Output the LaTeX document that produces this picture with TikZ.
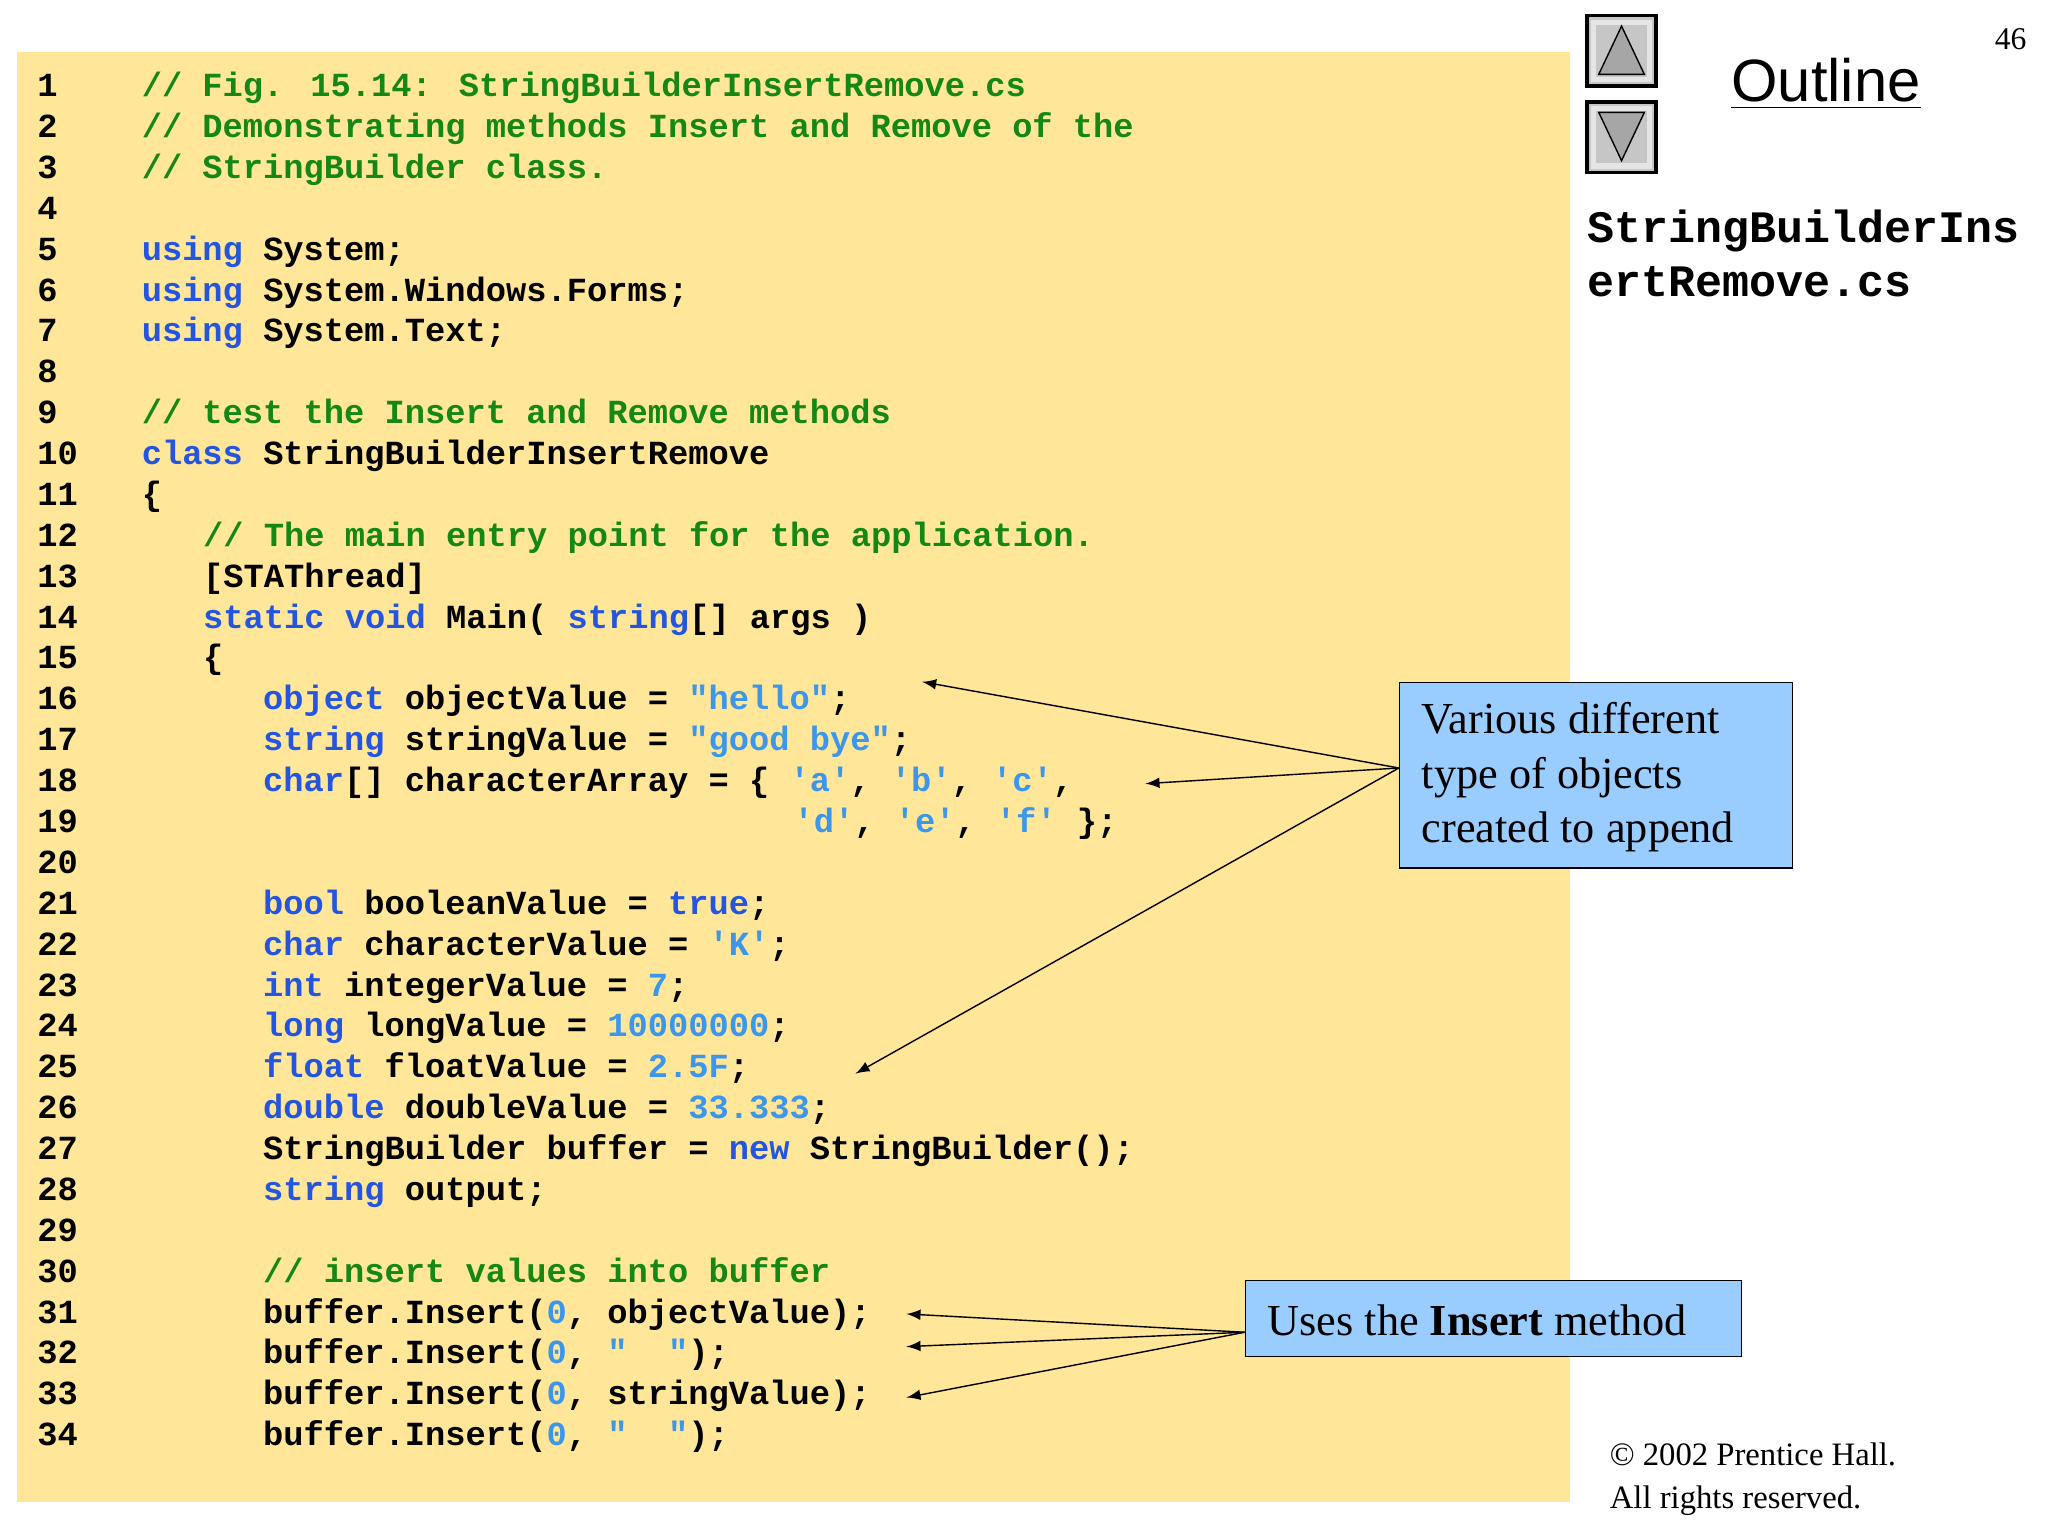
\documentclass[tikz,border=0pt]{standalone}
\usepackage{fontspec}
\setmainfont{Liberation Serif}
\newfontfamily\codef{Liberation Mono}[BoldFont={* Bold}]
\newfontfamily\sansf{Liberation Sans}
\definecolor{cmt}{RGB}{20,135,20}
\definecolor{kwc}{RGB}{35,85,225}
\definecolor{ltc}{RGB}{60,150,235}
\definecolor{bgy}{RGB}{255,230,153}
\definecolor{callb}{RGB}{153,204,255}
\newcommand\cm[1]{\textcolor{cmt}{#1}}
\newcommand\kw[1]{\textcolor{kwc}{#1}}
\newcommand\lt[1]{\textcolor{ltc}{#1}}
\newcommand\cl[3]{\node[code] (n#1) at (28,{74+31.3*(#1-1)}) {#1}; \node[code] (c#1) at (#2,{74+31.3*(#1-1)}) {#3};}
\begin{document}
\begin{tikzpicture}[x=0.013061cm,y=-0.013061cm,
  code/.style={anchor=base west,inner sep=0,font=\codef\bfseries\fontsize{9.6pt}{11pt}\selectfont},
  call/.style={draw,fill=callb,inner sep=0,anchor=north west},
  arr/.style={-latex,thin}]
\useasboundingbox (0,0) rectangle (1568,1176);
\fill[bgy] (13,40) rectangle (1202,1150);
\cl{1}{108}{\cm{// Fig. 15.14: StringBuilderInsertRemove.cs}}
\cl{2}{108}{\cm{// Demonstrating methods Insert and Remove of the}}
\cl{3}{108}{\cm{// StringBuilder class.}}
\cl{4}{108}{}
\cl{5}{108}{\kw{using} System;}
\cl{6}{108}{\kw{using} System.Windows.Forms;}
\cl{7}{108}{\kw{using} System.Text;}
\cl{8}{108}{}
\cl{9}{108}{\cm{// test the Insert and Remove methods}}
\cl{10}{108}{\kw{class} StringBuilderInsertRemove}
\cl{11}{108}{\{}
\cl{12}{155}{\cm{// The main entry point for the application.}}
\cl{13}{155}{[STAThread]}
\cl{14}{155}{\kw{static} \kw{void} Main( \kw{string}[] args )}
\cl{15}{155}{\{}
\cl{16}{201}{\kw{object} objectValue = \lt{"hello"};}
\cl{17}{201}{\kw{string} stringValue = \lt{"good bye"};}
\cl{18}{201}{\kw{char}[] characterArray = \{ \lt{'a'}, \lt{'b'}, \lt{'c'},}
\cl{19}{607}{\lt{'d'}, \lt{'e'}, \lt{'f'} \};}
\cl{20}{201}{}
\cl{21}{201}{\kw{bool} booleanValue = \kw{true};}
\cl{22}{201}{\kw{char} characterValue = \lt{'K'};}
\cl{23}{201}{\kw{int} integerValue = \lt{7};}
\cl{24}{201}{\kw{long} longValue = \lt{10000000};}
\cl{25}{201}{\kw{float} floatValue = \lt{2.5F};}
\cl{26}{201}{\kw{double} doubleValue = \lt{33.333};}
\cl{27}{201}{StringBuilder buffer = \kw{new} StringBuilder();}
\cl{28}{201}{\kw{string} output;}
\cl{29}{201}{}
\cl{30}{201}{\cm{// insert values into buffer}}
\cl{31}{201}{buffer.Insert(\lt{0}, objectValue);}
\cl{32}{201}{buffer.Insert(\lt{0}, \lt{"~~"});}
\cl{33}{201}{buffer.Insert(\lt{0}, stringValue);}
\cl{34}{201}{buffer.Insert(\lt{0}, \lt{"~~"});}
% buttons
\foreach \yy/\nm in {12/up,78/dn}{
  \draw[fill=gray!45,line width=1pt] (1215,\yy) rectangle (1268,\yy+54);
  \draw[gray!20,line width=1.5pt] (1220,\yy+5) rectangle (1263,\yy+49);
}
\draw[fill=gray!70] (1224,57) -- (1259,57) -- (1241.5,20) -- cycle;
\draw[fill=gray!70] (1224,86) -- (1259,86) -- (1241.5,123) -- cycle;
\node[anchor=base,inner sep=0,font=\sansf\fontsize{17pt}{20pt}\selectfont] (outl) at (1398,78) {\underline{Outline}};
\node[anchor=base east,inner sep=0,font=\fontsize{9pt}{11pt}\selectfont] (pg) at (1552,38) {46};
\node[anchor=north west,inner sep=0,align=left,font=\codef\bfseries\fontsize{12.8pt}{15.5pt}\selectfont] (fn) at (1215,160) {StringBuilderIns\\ertRemove.cs};
% callouts
\node[call,minimum width=301*0.013061cm,minimum height=142*0.013061cm] (b1) at (1071,522) {};
\node[anchor=north west,align=left,inner sep=0,font=\fontsize{12.6pt}{15.6pt}\selectfont] (t1) at (1088,537) {Various different\\type of objects\\created to append};
\node[call,minimum width=380*0.013061cm,minimum height=58*0.013061cm] (b2) at (953,980) {};
\node[anchor=west,inner sep=0,font=\fontsize{12.6pt}{15pt}\selectfont] (t2) at (970,1011) {Uses the \textbf{Insert} method};
\coordinate (s1) at (1071,588);
\coordinate (a1) at (706,522);
\coordinate (a2) at (877,600);
\coordinate (a3) at (655,822);
\draw[arr] (s1) -- (a1);
\draw[arr] (s1) -- (a2);
\draw[arr] (s1) -- (a3);
\coordinate (s2) at (953,1020);
\coordinate (d1) at (694,1006);
\coordinate (d2) at (694,1031);
\coordinate (d3) at (694,1070);
\draw[arr] (s2) -- (d1);
\draw[arr] (s2) -- (d2);
\draw[arr] (s2) -- (d3);
\node[anchor=base west,inner sep=0,font=\fontsize{9.3pt}{12pt}\selectfont] (cp1) at (1232,1122) {\textcopyright{} 2002 Prentice Hall.};
\node[anchor=base west,inner sep=0,font=\fontsize{9.3pt}{12pt}\selectfont] (cp2) at (1232,1155) {All rights reserved.};
\end{tikzpicture}
\end{document}
